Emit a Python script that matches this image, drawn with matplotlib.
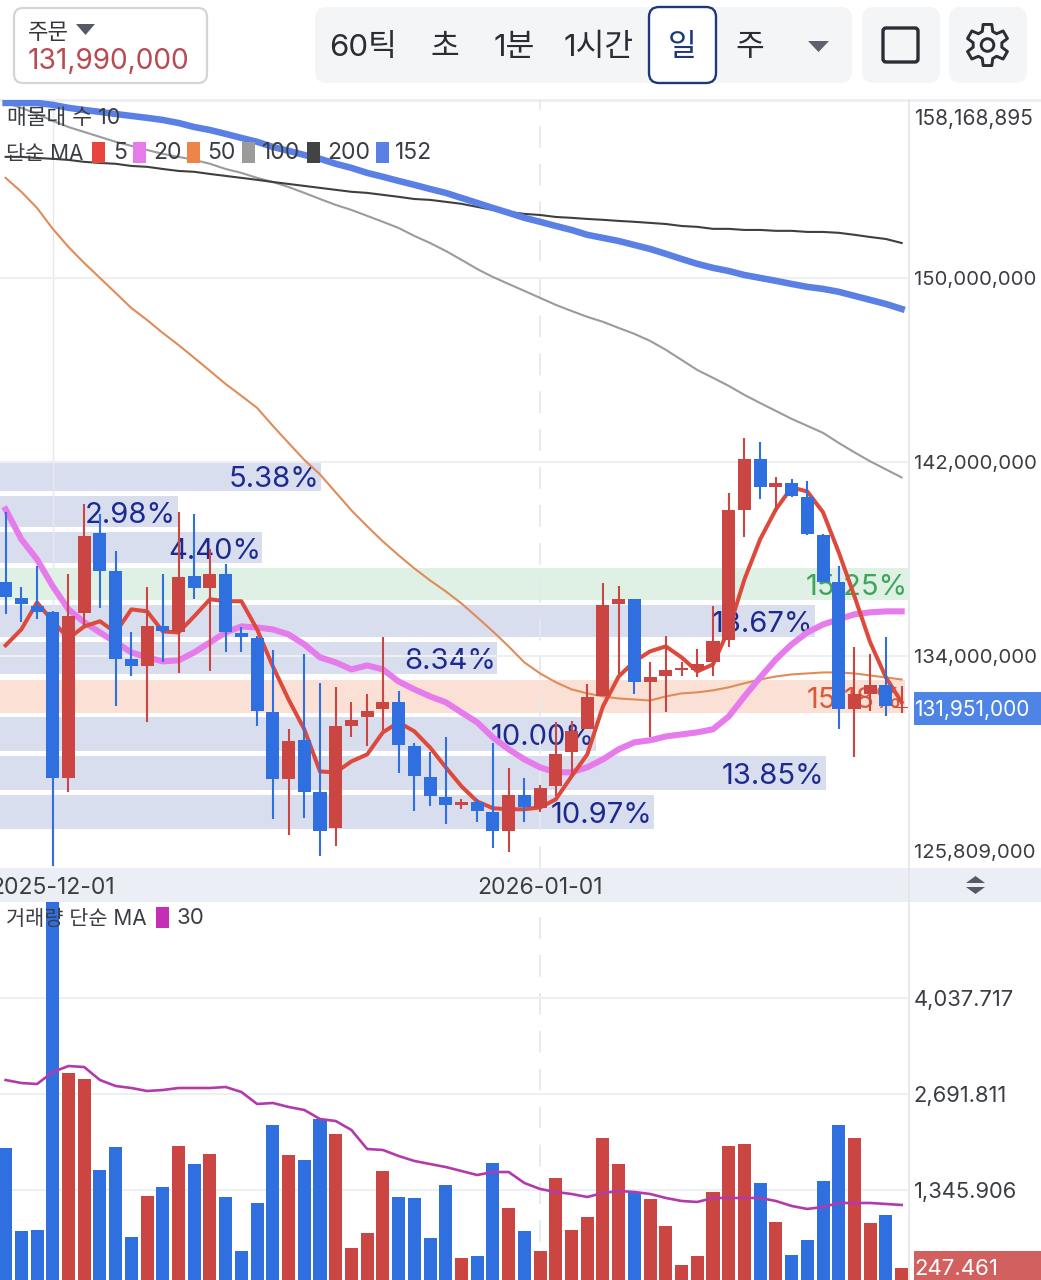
import numpy as np
import matplotlib
matplotlib.use("Agg")
import matplotlib.pyplot as plt
from matplotlib.patches import FancyBboxPatch, Polygon, Rectangle, Circle

plt.rcParams['font.family'] = ['Inter', 'Noto Sans CJK KR', 'DejaVu Sans']

# prices in millions
opens = [136.99, 136.34, 136.01, 135.77, 129.22, 135.73, 139.00, 137.44, 133.88, 133.60,
         135.20, 134.96, 137.23, 136.75, 137.32, 134.92, 134.72, 131.78, 129.18, 130.69,
         128.68, 127.31, 131.23, 131.59, 131.90, 132.18, 130.45, 129.25, 128.49, 128.18,
         128.29, 127.91, 127.19, 128.56, 128.07, 128.91, 130.22, 131.12, 132.41, 136.09,
         136.30, 132.97, 133.20, 133.44, 133.44, 133.76, 134.64, 139.96, 142.14, 140.92,
         141.09, 140.50, 138.92, 136.99, 131.90, 132.49, 132.85, 131.94]
closes = [136.38, 136.09, 135.77, 129.22, 135.61, 138.88, 137.44, 133.88, 133.60, 135.20,
          135.00, 137.19, 136.75, 137.32, 134.96, 134.76, 131.82, 129.18, 130.65, 128.71,
          127.19, 131.23, 131.47, 131.82, 132.18, 130.49, 129.29, 128.52, 128.18, 128.29,
          127.95, 127.19, 128.56, 128.10, 128.83, 130.14, 131.04, 132.37, 136.05, 136.30,
          132.97, 133.16, 133.44, 133.52, 133.68, 134.60, 139.96, 142.14, 140.92, 141.09,
          140.54, 138.96, 136.99, 131.90, 132.49, 132.85, 132.02, 131.98]
highs = [139.88, 136.79, 137.64, 135.81, 137.32, 140.21, 139.79, 138.26, 134.96, 136.79,
         137.32, 139.88, 139.79, 138.34, 137.73, 135.16, 134.80, 134.24, 131.12, 134.08,
         132.93, 132.77, 132.18, 132.49, 134.76, 132.61, 130.57, 130.22, 130.80, 128.41,
         128.41, 130.57, 129.60, 129.22, 128.95, 131.39, 131.43, 132.89, 136.95, 136.83,
         136.30, 133.76, 134.80, 133.76, 134.28, 136.01, 140.67, 143.03, 142.82, 141.34,
         141.26, 141.17, 138.96, 137.64, 134.36, 134.08, 134.76, 132.81]
lows = [135.69, 135.37, 135.49, 125.87, 128.68, 135.20, 135.93, 132.02, 133.20, 131.39,
        133.76, 133.32, 136.30, 133.40, 134.16, 134.16, 131.23, 127.65, 127.04, 127.68,
        126.25, 126.62, 130.80, 130.45, 131.08, 129.41, 127.95, 128.14, 127.46, 128.03,
        127.53, 126.55, 126.40, 127.53, 127.91, 128.52, 129.29, 131.12, 132.41, 133.28,
        132.49, 130.80, 131.78, 133.20, 133.16, 133.20, 134.36, 138.84, 140.42, 139.88,
        140.50, 138.92, 136.99, 131.15, 130.03, 131.82, 131.62, 131.74]

ma5 = [134.44, 135.08, 136.17, 135.41, 134.72, 135.20, 135.41, 134.96, 135.89, 135.81,
       135.00, 134.96, 135.61, 136.30, 136.22, 136.22, 135.08, 133.60, 132.29, 131.12,
       129.48, 129.45, 129.87, 130.14, 131.00, 131.39, 131.04, 130.41, 129.64, 128.91,
       128.33, 128.07, 128.03, 128.03, 128.10, 128.41, 129.29, 130.14, 132.02, 133.20,
       133.80, 134.20, 134.40, 133.96, 133.40, 133.68, 135.08, 137.11, 138.76, 140.00,
       140.92, 140.75, 139.88, 138.22, 136.42, 134.56, 133.16, 132.18]
ma20 = [140.00, 138.76, 137.93, 136.83, 135.89, 135.37, 134.96, 134.56, 134.16, 133.96,
        133.80, 133.84, 134.16, 134.56, 134.96, 135.20, 135.16, 135.08, 134.88, 134.48,
        133.96, 133.76, 133.48, 133.64, 133.48, 133.00, 132.69, 132.41, 132.18, 131.78,
        131.39, 130.80, 130.34, 129.95, 129.64, 129.45, 129.45, 129.64, 129.95, 130.34,
        130.61, 130.69, 130.84, 130.92, 131.00, 131.12, 131.62, 132.41, 133.16, 133.88,
        134.48, 134.96, 135.28, 135.49, 135.69, 135.77, 135.81, 135.81]
ma50 = [154.54, 153.90, 153.16, 152.21, 151.39, 150.67, 150.00, 149.33, 148.66, 148.13,
        147.56, 147.03, 146.47, 145.90, 145.33, 144.82, 144.30, 143.53, 142.80, 142.08,
        141.47, 140.71, 139.96, 139.30, 138.67, 138.10, 137.56, 137.07, 136.62, 136.13,
        135.57, 135.00, 134.40, 133.76, 133.32, 132.97, 132.69, 132.53, 132.41, 132.33,
        132.29, 132.25, 132.41, 132.53, 132.57, 132.65, 132.77, 132.93, 133.08, 133.20,
        133.28, 133.32, 133.36, 133.36, 133.32, 133.24, 133.16, 133.08]
ma100 = [158.03, 157.80, 157.51, 157.19, 156.90, 156.67, 156.44, 156.21, 156.02, 155.83,
         155.65, 155.51, 155.37, 155.19, 154.95, 154.77, 154.54, 154.35, 154.12, 153.85,
         153.57, 153.30, 153.07, 152.80, 152.53, 152.25, 151.89, 151.57, 151.21, 150.81,
         150.40, 150.04, 149.73, 149.42, 149.11, 148.80, 148.53, 148.27, 148.05, 147.78,
         147.52, 147.21, 146.82, 146.38, 145.94, 145.60, 145.25, 144.86, 144.51, 144.17,
         143.83, 143.53, 143.23, 142.80, 142.40, 142.02, 141.68, 141.34]
ma200 = [155.51, 155.51, 155.46, 155.42, 155.37, 155.28, 155.23, 155.19, 155.09, 155.05,
         154.95, 154.86, 154.82, 154.72, 154.63, 154.54, 154.45, 154.35, 154.26, 154.17,
         154.08, 153.99, 153.90, 153.85, 153.76, 153.67, 153.57, 153.53, 153.44, 153.35,
         153.21, 153.07, 152.98, 152.89, 152.84, 152.75, 152.71, 152.66, 152.62, 152.57,
         152.53, 152.48, 152.43, 152.34, 152.30, 152.21, 152.21, 152.16, 152.16, 152.12,
         152.12, 152.07, 152.07, 152.03, 151.94, 151.84, 151.75, 151.57]
ma152 = [158.03, 158.03, 158.03, 157.94, 157.80, 157.70, 157.61, 157.51, 157.42, 157.33,
         157.23, 157.09, 156.90, 156.76, 156.58, 156.39, 156.21, 155.97, 155.79, 155.60,
         155.42, 155.19, 155.00, 154.77, 154.59, 154.40, 154.22, 154.03, 153.85, 153.62,
         153.39, 153.16, 152.94, 152.71, 152.53, 152.34, 152.16, 151.94, 151.80, 151.66,
         151.48, 151.30, 151.08, 150.85, 150.63, 150.45, 150.31, 150.13, 150.00, 149.87,
         149.73, 149.60, 149.51, 149.38, 149.20, 149.02, 148.84, 148.62]

volumes = [1935, 771, 785, 5400, 2986, 2902, 1626, 1949, 687, 1262,
           1388, 1963, 1710, 1851, 1248, 491, 1164, 2257, 1837, 1767,
           2341, 2131, 533, 743, 1612, 1248, 1234, 673, 1416, 393,
           421, 1724, 1094, 771, 491, 1514, 785, 967, 2075, 1710,
           1318, 1220, 841, 294, 421, 1318, 1963, 1991, 1444, 897,
           435, 645, 1472, 2257, 2075, 883, 995, 247.461]
vol_ma30 = [2888, 2846, 2832, 3000, 3084, 3070, 2888, 2804, 2776, 2734,
            2748, 2776, 2776, 2776, 2790, 2720, 2552, 2566, 2510, 2468,
            2341, 2313, 2187, 1921, 1907, 1823, 1753, 1710, 1668, 1612,
            1556, 1598, 1598, 1444, 1360, 1318, 1290, 1248, 1304, 1332,
            1318, 1290, 1234, 1192, 1178, 1234, 1234, 1234, 1234, 1192,
            1122, 1080, 1108, 1164, 1164, 1164, 1150, 1136]

# volume profile zones
zone_low = [140.75, 139.25, 137.77, 136.26, 134.76, 133.28, 131.74, 130.26, 128.75, 127.27]
zone_high = [142.02, 140.54, 139.05, 137.56, 136.05, 134.56, 133.04, 131.59, 130.07, 128.56]
zone_pct = [5.38, 2.98, 4.40, 15.25, 13.67, 8.34, 15.18, 10.00, 13.85, 10.97]

date_idx = [3, 34]
date_labels = ["2025-12-01", "2026-01-01"]
price_ticks = [150, 142, 134]
price_tick_labels = ["150,000,000", "142,000,000", "134,000,000"]
vol_ticks = [1345.906, 2691.811, 4037.717]
vol_tick_labels = ["1,345.906", "2,691.811", "4,037.717"]

UP = "#cb4543"
DOWN = "#2f6fdf"
GRID = "#eeeff1"
EDGE = "#e3e5e9"
TEXT = "#3a3d42"
W, H = 1041, 1280


def panel(top, bottom):
    return [0, 1 - bottom / H, 909 / W, (bottom - top) / H]


def pill(ax, x0, y0, x1, y1, r, fc, ec="none", lw=0, z=1):
    ax.add_patch(FancyBboxPatch((x0 + r, y0 + r), x1 - x0 - 2 * r, y1 - y0 - 2 * r,
                                boxstyle=f"round,pad={r},rounding_size={r}",
                                fc=fc, ec=ec, lw=lw, zorder=z))


def overlay_axes(fig, z):
    a = fig.add_axes([0, 0, 1, 1], zorder=z)
    a.set_xlim(0, W)
    a.set_ylim(H, 0)
    a.axis("off")
    a.patch.set_alpha(0)
    return a


fig = plt.figure(figsize=(W / 100, H / 100), dpi=100, facecolor="white")
bg = overlay_axes(fig, 0)
fg = overlay_axes(fig, 5)

x = np.arange(len(closes))
xlim = (-5.6 / 15.72, 903.4 / 15.72)

# price panel
ax = fig.add_axes(panel(100, 868), zorder=1)
ax.patch.set_alpha(0)
ax.set_yscale("log")
ax.set_xlim(*xlim)
ax.set_ylim(125.809, 158.168895)
ax.set_yticks(price_ticks)
ax.set_yticklabels(price_tick_labels)
ax.minorticks_off()
ax.yaxis.tick_right()
ax.set_xticks(date_idx)
ax.set_xticklabels(date_labels)
ax.tick_params(axis="y", length=0, pad=3.5, labelsize=14.7, labelcolor=TEXT)
ax.tick_params(axis="x", length=0, pad=6.5, labelsize=16.5, labelcolor=TEXT)
ax.grid(axis="y", color=GRID, lw=1.5, zorder=0)
for s in ax.spines.values():
    s.set_visible(False)
ax.axvline(date_idx[0], color="#e6e8ec", lw=1, zorder=0)
ax.axvline(date_idx[1], color="#e6e8ec", lw=1.3, ls=(0, (12, 9)), zorder=0)

# zones share the y axis but run on their own percent x scale
zone_ax = ax.twiny()
zone_ax.set_xlim(0, 15.25)
zone_ax.axis("off")
zone_ax.set_zorder(0)
ax.set_zorder(1)
for i, pct in enumerate(zone_pct):
    if i == 3:
        fc, tc = "#dff0e5", "#3ea65a"
    elif i == 6:
        fc, tc = "#fbe0d6", "#d9593a"
    else:
        fc, tc = "#d9deef", "#1c2a8f"
    zone_ax.barh(zone_low[i], pct, height=zone_high[i] - zone_low[i], align="edge",
                 color=fc, zorder=1)
    zone_ax.annotate(f"{pct:.2f}%", (pct, (zone_low[i] * zone_high[i]) ** 0.5),
                     xytext=(-1, -2.5), textcoords="offset points", color=tc,
                     ha="right", va="center", fontsize=21, zorder=2)

ax.plot(x, ma100, color="#9b9b9b", lw=1.5, zorder=3)
ax.plot(x, ma200, color="#3f3f3f", lw=1.5, zorder=3)
ax.plot(x, ma152, color="#5a80e6", lw=4.7, zorder=3)
ax.plot(x, ma50, color="#e08c58", lw=1.5, zorder=3)
ax.plot(x, ma20, color="#e67ceb", lw=4.4, zorder=3)
ax.plot(x, ma5, color="#dd4a3c", lw=2.9, zorder=3)

o = np.array(opens)
c = np.array(closes)
colors = [UP if b >= a else DOWN for a, b in zip(o, c)]
ax.vlines(x, lows, highs, colors=colors, lw=1.5, zorder=4)
ax.bar(x, np.abs(c - o), bottom=np.minimum(o, c), width=0.83, color=colors, zorder=5)

# volume panel
vax = fig.add_axes(panel(902, 1280), zorder=1)
vax.patch.set_alpha(0)
vax.set_xlim(*xlim)
vax.set_ylim(84, 5384)
vax.set_yticks(vol_ticks)
vax.set_yticklabels(vol_tick_labels)
vax.yaxis.tick_right()
vax.set_xticks([])
vax.tick_params(axis="y", length=0, pad=3.5, labelsize=15.8, labelcolor=TEXT)
vax.grid(axis="y", color=GRID, lw=1.5, zorder=0)
for s in vax.spines.values():
    s.set_visible(False)
vax.axvline(date_idx[0], color="#e6e8ec", lw=1, zorder=0)
vax.axvline(date_idx[1], color="#e6e8ec", lw=1.3, ls=(0, (12, 9)), zorder=0)
vax.bar(x, volumes, width=0.83, color=colors, zorder=2)
vax.plot(x, vol_ma30, color="#b23bab", lw=1.9, zorder=3)

# background chrome
bg.plot([0, W], [100, 100], color="#eceef1", lw=2)
bg.plot([909, 909], [100, H], color=EDGE, lw=1.2)
bg.add_patch(Rectangle((0, 868), W, 34, fc="#eceef5", ec="none"))
fg.add_patch(Polygon([[966, 883], [985, 883], [975.5, 876]], fc="#545a66", ec="none"))
fg.add_patch(Polygon([[966, 887], [985, 887], [975.5, 894]], fc="#545a66", ec="none"))

# header
pill(fg, 14, 8, 207, 83, 9, "white", "#d5d5d5", 1.6)
fg.text(28, 33, "주문", fontsize=16, color="#33363b", va="center")
fg.add_patch(Polygon([[76, 24], [95, 24], [85.5, 35]], fc="#545a66", ec="none"))
fg.text(28, 61, "131,990,000", fontsize=20.2, color="#b94a52", va="center")

pill(fg, 315, 7, 852, 83, 12, "#f4f5f7")
for label, cx in zip(["60틱", "초", "1분", "1시간", "주"], [363, 445, 514, 599, 750]):
    fg.text(cx, 48, label, fontsize=22.5, color="#2a2d33", ha="center", va="center")
pill(fg, 649, 7, 716, 83, 10, "white", "#1d3a78", 1.7, z=2)
fg.text(682.5, 48, "일", fontsize=22.5, color="#1d3a78", ha="center", va="center", zorder=3)
fg.add_patch(Polygon([[808, 41], [829, 41], [818.5, 52]], fc="#5c616b", ec="none"))

pill(fg, 862, 7, 940, 83, 12, "#f4f5f7")
pill(fg, 883, 28, 918, 62, 3, "#f4f5f7", "#2a2d33", 2.4, z=2)
pill(fg, 949, 7, 1027, 83, 12, "#f4f5f7")

# gear icon
angles = np.deg2rad(np.arange(0, 360, 60))
gear = []
for t in angles:
    for off, rad in [(-21, 14.5), (-12, 21), (12, 21), (21, 14.5)]:
        a = t + np.deg2rad(off) + np.pi / 2
        gear.append([987.5 + rad * np.cos(a), 45 + rad * np.sin(a)])
fg.add_patch(Polygon(gear, closed=True, fc="#f4f5f7", ec="#2a2d33", lw=2.1, joinstyle="round", zorder=2))
fg.add_patch(Circle((987.5, 45), 6.3, fc="#f4f5f7", ec="#2a2d33", lw=2.1, zorder=3))

# legends
fg.text(7, 118, "매물대 수 10", fontsize=15.5, color=TEXT, va="center")
fg.text(6, 154, "단순 MA", fontsize=15, color=TEXT, va="center")
legend_items = [(92, "5", "#e8453c", 113), (133, "20", "#e67ceb", 153), (187, "50", "#ee8548", 207),
                (242, "100", "#9b9b9b", 262), (307, "200", "#434343", 327), (376, "152", "#5a80e6", 395)]
for bx, label, col, tx in legend_items:
    fg.add_patch(Rectangle((bx, 142), 13, 21, fc=col, ec="none"))
    fg.text(tx, 153, label, fontsize=16.5, color=TEXT, va="center")

fg.text(6, 919, "거래량 단순 MA", fontsize=15, color=TEXT, va="center")
fg.add_patch(Rectangle((156, 907), 13, 21, fc="#c62fb5", ec="none"))
fg.text(177, 918, "30", fontsize=16, color=TEXT, va="center")

# axis end labels
fg.text(914, 119, "158,168,895", fontsize=15, color=TEXT, va="center")
fg.text(914, 853, "125,809,000", fontsize=14.7, color=TEXT, va="center")
fg.add_patch(Rectangle((914, 692), 127, 33, fc="#4d84e6", ec="none"))
fg.text(914, 710, "131,951,000", fontsize=15, color="white", va="center")
fg.add_patch(Rectangle((914, 1251), 127, 29, fc="#d1605f", ec="none"))
fg.text(914, 1269, "247.461", fontsize=16, color="white", va="center")

fig.savefig("out.png", dpi=100)
